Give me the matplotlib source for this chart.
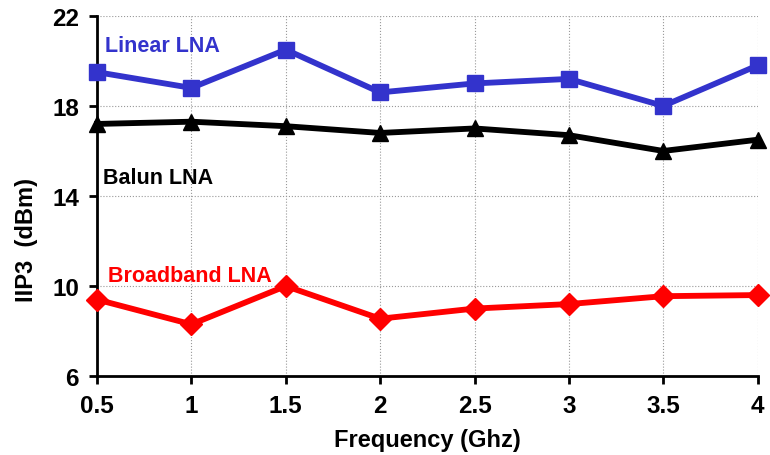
import matplotlib
matplotlib.use("Agg")
import matplotlib.pyplot as plt

plt.rcParams["font.family"] = ["Liberation Sans", "DejaVu Sans"]
plt.rcParams["font.weight"] = "bold"

freq = [0.5, 1.0, 1.5, 2.0, 2.5, 3.0, 3.5, 4.0]
linear_lna = [19.5, 18.8, 20.5, 18.6, 19.0, 19.2, 18.0, 19.8]
balun_lna = [17.2, 17.3, 17.1, 16.8, 17.0, 16.7, 16.0, 16.5]
broadband_lna = [9.4, 8.3, 10.0, 8.55, 9.0, 9.2, 9.55, 9.6]

x_ticks = [0.5, 1, 1.5, 2, 2.5, 3, 3.5, 4]
x_labels = ["0.5", "1", "1.5", "2", "2.5", "3", "3.5", "4"]
y_ticks = [6, 10, 14, 18, 22]

fig = plt.figure(figsize=(7.7, 4.56), dpi=100)
ax = fig.add_axes([0.126, 0.173, 0.858, 0.79])

ax.plot(freq, linear_lna, color="#3333CC", lw=4.2, marker="s", ms=12, clip_on=False, zorder=3)
ax.plot(freq, balun_lna, color="black", lw=4.2, marker="^", ms=12, clip_on=False, zorder=3)
ax.plot(freq, broadband_lna, color="#FF0000", lw=4.2, marker="D", ms=11, clip_on=False, zorder=3)

ax.text(0.54, 20.7, "Linear LNA", color="#3333CC", fontsize=15.5, fontweight="bold", va="center")
ax.text(0.53, 14.8, "Balun LNA", color="black", fontsize=15.5, fontweight="bold", va="center")
ax.text(0.56, 10.45, "Broadband LNA", color="#FF0000", fontsize=15.5, fontweight="bold", va="center")

ax.set_xlim(0.5, 4)
ax.set_ylim(6, 22)
ax.set_xticks(x_ticks)
ax.set_xticklabels(x_labels)
ax.set_yticks(y_ticks)
ax.tick_params(labelsize=17.5, width=2, length=6, direction="out", pad=7)

ax.grid(True, color="#999999", linestyle=":", linewidth=0.8)
ax.set_axisbelow(True)
for s in ["top", "right"]:
    ax.spines[s].set_visible(False)
for s in ["left", "bottom"]:
    ax.spines[s].set_linewidth(2)

ax.set_xlabel("Frequency (Ghz)", fontsize=17, fontweight="bold", labelpad=8)
ax.set_ylabel("IIP3  (dBm)", fontsize=17, fontweight="bold")
ax.yaxis.set_label_coords(-0.09, 0.38)

fig.savefig("out.png", dpi=100)
